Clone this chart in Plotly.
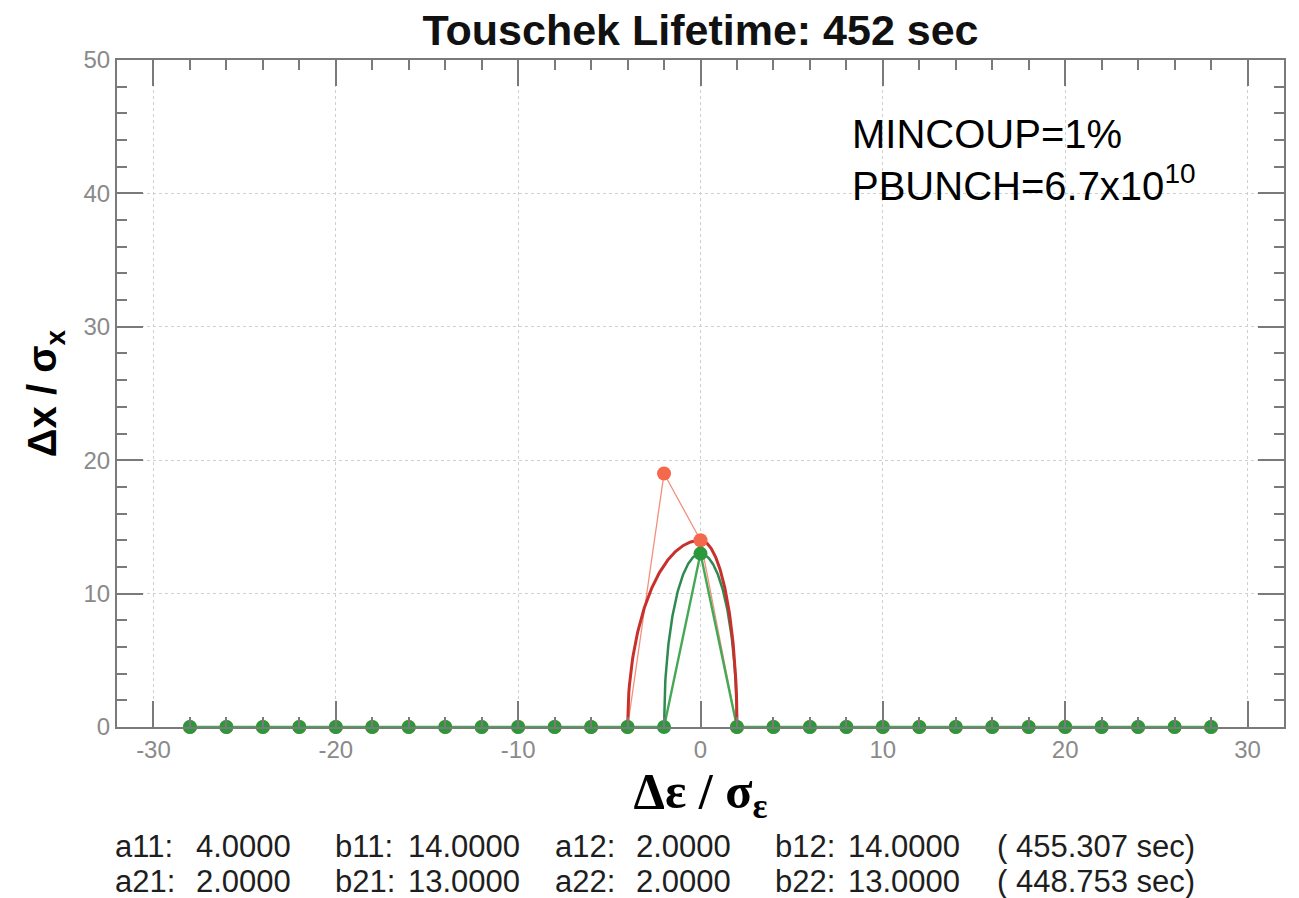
import numpy as np
import plotly.graph_objects as go

# ---------------- data ----------------
x_points = [-28, -26, -24, -22, -20, -18, -16, -14, -12, -10, -8, -6, -4, -2,
            0, 2, 4, 6, 8, 10, 12, 14, 16, 18, 20, 22, 24, 26, 28]
red_y = [0, 0, 0, 0, 0, 0, 0, 0, 0, 0, 0, 0, 0, 19,
         14, 0, 0, 0, 0, 0, 0, 0, 0, 0, 0, 0, 0, 0, 0]
green_y = [0, 0, 0, 0, 0, 0, 0, 0, 0, 0, 0, 0, 0, 0,
           13, 0, 0, 0, 0, 0, 0, 0, 0, 0, 0, 0, 0, 0, 0]

# fit parameters (left half-width a_1, height b_1, right half-width a_2, height b_2)
fit_red = {"a11": 4.0, "b11": 14.0, "a12": 2.0, "b12": 14.0}
fit_green = {"a21": 2.0, "b21": 13.0, "a22": 2.0, "b22": 13.0}
lifetimes = [455.307, 448.753]
title_text = "Touschek Lifetime: 452 sec"
x_ticks = [-30, -20, -10, 0, 10, 20, 30]
x_ticklabels = ["-30", "-20", "-10", "0", "10", "20", "30"]
y_ticks = [0, 10, 20, 30, 40, 50]
y_ticklabels = ["0", "10", "20", "30", "40", "50"]

# ---------------- colours ----------------
RED_DOT = "#f4694c"
RED_THIN = "#f3907c"
RED_FIT = "#c8302c"
GREEN_DOT = "#2a993b"
GREEN_THIN = "#45a855"
GREEN_FIT = "#2f8a52"
AXIS = "#7a7a7a"
TICKLAB = "#8a8a8a"


def half_ellipse(a_left, b_left, a_right, b_right, n=120):
    xl = np.linspace(-a_left, 0, n)
    yl = b_left * np.sqrt(np.clip(1 - (xl / a_left) ** 2, 0, None))
    xr = np.linspace(0, a_right, n)
    yr = b_right * np.sqrt(np.clip(1 - (xr / a_right) ** 2, 0, None))
    return np.concatenate([xl, xr]), np.concatenate([yl, yr])


rv = list(fit_red.values())
gv = list(fit_green.values())
rx, ry = half_ellipse(*rv)
gx, gy = half_ellipse(*gv)

fig = go.Figure()
# thin data lines
fig.add_trace(go.Scatter(x=x_points, y=red_y, mode="lines", cliponaxis=False,
                         line=dict(color=RED_THIN, width=1.3), hoverinfo="skip"))
fig.add_trace(go.Scatter(x=x_points, y=green_y, mode="lines", cliponaxis=False,
                         line=dict(color=GREEN_THIN, width=2.4), hoverinfo="skip"))
# fitted curves
fig.add_trace(go.Scatter(x=gx, y=gy, mode="lines",
                         line=dict(color=GREEN_FIT, width=2.5), hoverinfo="skip"))
fig.add_trace(go.Scatter(x=rx, y=ry, mode="lines",
                         line=dict(color=RED_FIT, width=3), hoverinfo="skip"))
# markers
fig.add_trace(go.Scatter(x=x_points, y=red_y, mode="markers", cliponaxis=False,
                         marker=dict(color=RED_DOT, size=14)))
fig.add_trace(go.Scatter(x=x_points, y=green_y, mode="markers", cliponaxis=False,
                         marker=dict(color=GREEN_DOT, size=14)))

L, R, T, B = 117, 15, 60, 171
W, H = 1299, 898
pw, ph = W - L - R, H - T - B


def px_x(p):
    return (p - L) / pw


def px_y(p):
    return (H - B - p) / ph


axis_common = dict(
    showline=True, linecolor=AXIS, linewidth=2, mirror="ticks",
    ticks="inside", ticklen=26, tickwidth=2, tickcolor=AXIS,
    showgrid=True, gridcolor="#cfcfcf", griddash="dot", gridwidth=1,
    zeroline=False,
    tickfont=dict(family="Liberation Sans, Arial, sans-serif", size=24, color=TICKLAB),
    minor=dict(dtick=2, ticks="inside", ticklen=10, tickwidth=2, tickcolor=AXIS, showgrid=False),
)

fig.update_xaxes(range=[-32, 32], tickvals=x_ticks, ticktext=x_ticklabels, **axis_common,
                 title=dict(text="<b>Δε / σ<sub>ε</sub></b>", standoff=0,
                            font=dict(family="Liberation Serif, Times New Roman, serif",
                                      size=50, color="black")))
fig.update_yaxes(range=[0, 50], tickvals=y_ticks, ticktext=y_ticklabels, **axis_common,
                 title=dict(text="<b>Δx / σ<sub>x</sub></b>", standoff=14,
                            font=dict(family="Liberation Sans, Arial, sans-serif",
                                      size=40, color="black")))

annotations = [
    dict(text="MINCOUP=1%<br>PBUNCH=6.7x10<sup>10</sup>", xref="paper", yref="paper",
         x=px_x(850), y=px_y(110), xanchor="left", yanchor="top", showarrow=False, align="left",
         font=dict(family="Liberation Sans, Arial, sans-serif", size=40, color="black")),
]

# bottom parameter table
label_left = [113, 333, 553, 773]
value_right = [293, 522, 733, 962]
row_y = [846, 881]
rows = [list(fit_red.items()), list(fit_green.items())]
table_font = dict(family="Liberation Sans Narrow, Arial Narrow, Liberation Sans, sans-serif",
                  size=31, color="#1e1e1e")
for r, items in enumerate(rows):
    for c, (name, val) in enumerate(items):
        annotations.append(dict(text=name + ":", xref="paper", yref="paper",
                                x=px_x(label_left[c]), y=px_y(row_y[r]),
                                xanchor="left", yanchor="middle", showarrow=False, font=table_font))
        annotations.append(dict(text=f"{val:.4f}", xref="paper", yref="paper",
                                x=px_x(value_right[c]), y=px_y(row_y[r]),
                                xanchor="right", yanchor="middle", showarrow=False, font=table_font))
    annotations.append(dict(text=f"( {lifetimes[r]:.3f} sec)", xref="paper", yref="paper",
                            x=px_x(995), y=px_y(row_y[r]),
                            xanchor="left", yanchor="middle", showarrow=False, font=table_font))

fig.update_layout(
    width=W, height=H,
    margin=dict(l=L, r=R, t=T, b=B),
    paper_bgcolor="white", plot_bgcolor="white",
    showlegend=False,
    title=dict(text="<b>" + title_text + "</b>", x=(L + pw / 2) / W, xanchor="center",
               y=1 - 30 / H, yanchor="middle",
               font=dict(family="Liberation Sans, Arial, sans-serif", size=43, color="#111111")),
    annotations=annotations,
)

fig.write_html("out.html")
